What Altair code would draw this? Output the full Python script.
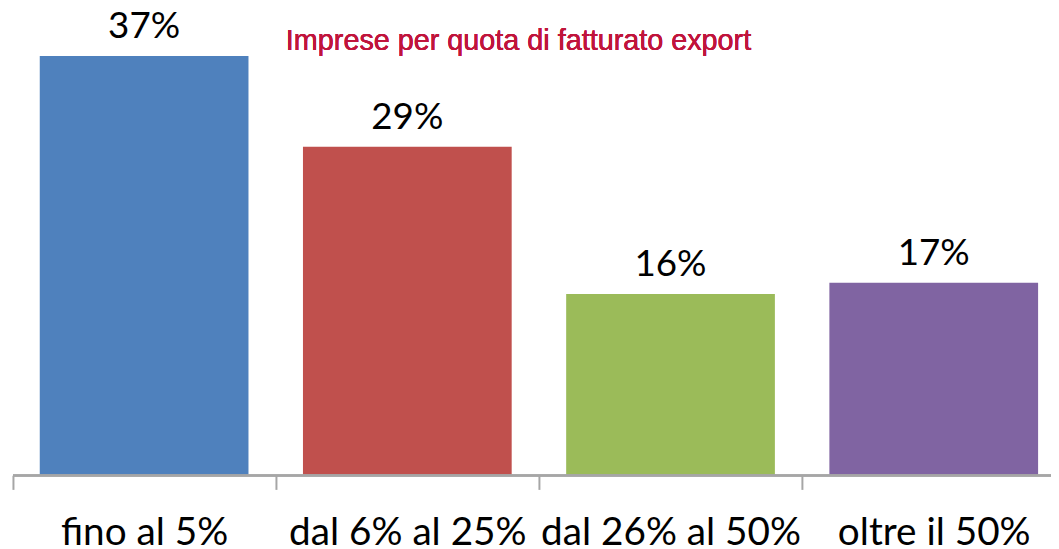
import altair as alt
import pandas as pd

categories = ["fino al 5%", "dal 6% al 25%", "dal 26% al 50%", "oltre il 50%"]
values = [37, 29, 16, 17]
labels = ["37%", "29%", "16%", "17%"]
colors = ["#4F81BD", "#C0504D", "#9BBB59", "#8064A2"]
title_text = "Imprese per quota di fatturato export"

df = pd.DataFrame({"cat": categories, "val": values, "lab": labels})

W = 1006
H = 457
step = W / (4 - 0.207)

x = alt.X("cat:N", sort=categories,
          scale=alt.Scale(paddingInner=0.207, paddingOuter=0),
          axis=alt.Axis(title=None, labelAngle=0, domain=False,
                        tickColor="#A6A6A6", tickWidth=2, tickSize=14, tickOffset=-step / 2,
                        labelOffset=step / 2,
                        labelFont="Lato", labelFontSize=39, labelColor="#000000", labelLimit=0,
                        labelPadding=25, labelBaseline="top"))
y = alt.Y("val:Q", scale=alt.Scale(domain=[0, 40], nice=False), axis=None)

bars = alt.Chart(df).mark_bar().encode(
    x=x, y=y,
    color=alt.Color("cat:N", sort=categories,
                    scale=alt.Scale(domain=categories, range=colors), legend=None),
)
text = alt.Chart(df).mark_text(font="Lato", fontSize=37, baseline="bottom", dy=-10, color="#000000").encode(
    x=alt.X("cat:N", sort=categories), y="val:Q", text="lab:N"
)
baseline_rule = alt.Chart(df).mark_rule(color="#A6A6A6", strokeWidth=2).encode(
    x=alt.value(-27), x2=alt.value(W + 40), y=alt.value(H)
)
title = alt.Chart(df).mark_text(font="Liberation Sans", fontSize=29, align="left",
                                baseline="alphabetic", color="#C0143C").encode(
    x=alt.value(248), y=alt.value(28), text=alt.value(title_text)
)

chart = alt.layer(bars, text, baseline_rule, title).properties(
    width=W, height=H,
    padding={"left": 32, "top": 12, "right": 13, "bottom": 72},
    autosize=alt.AutoSizeParams(type="none"),
).configure_view(stroke=None)

chart.save("out.html", embed_options={"renderer": "svg", "actions": False})
